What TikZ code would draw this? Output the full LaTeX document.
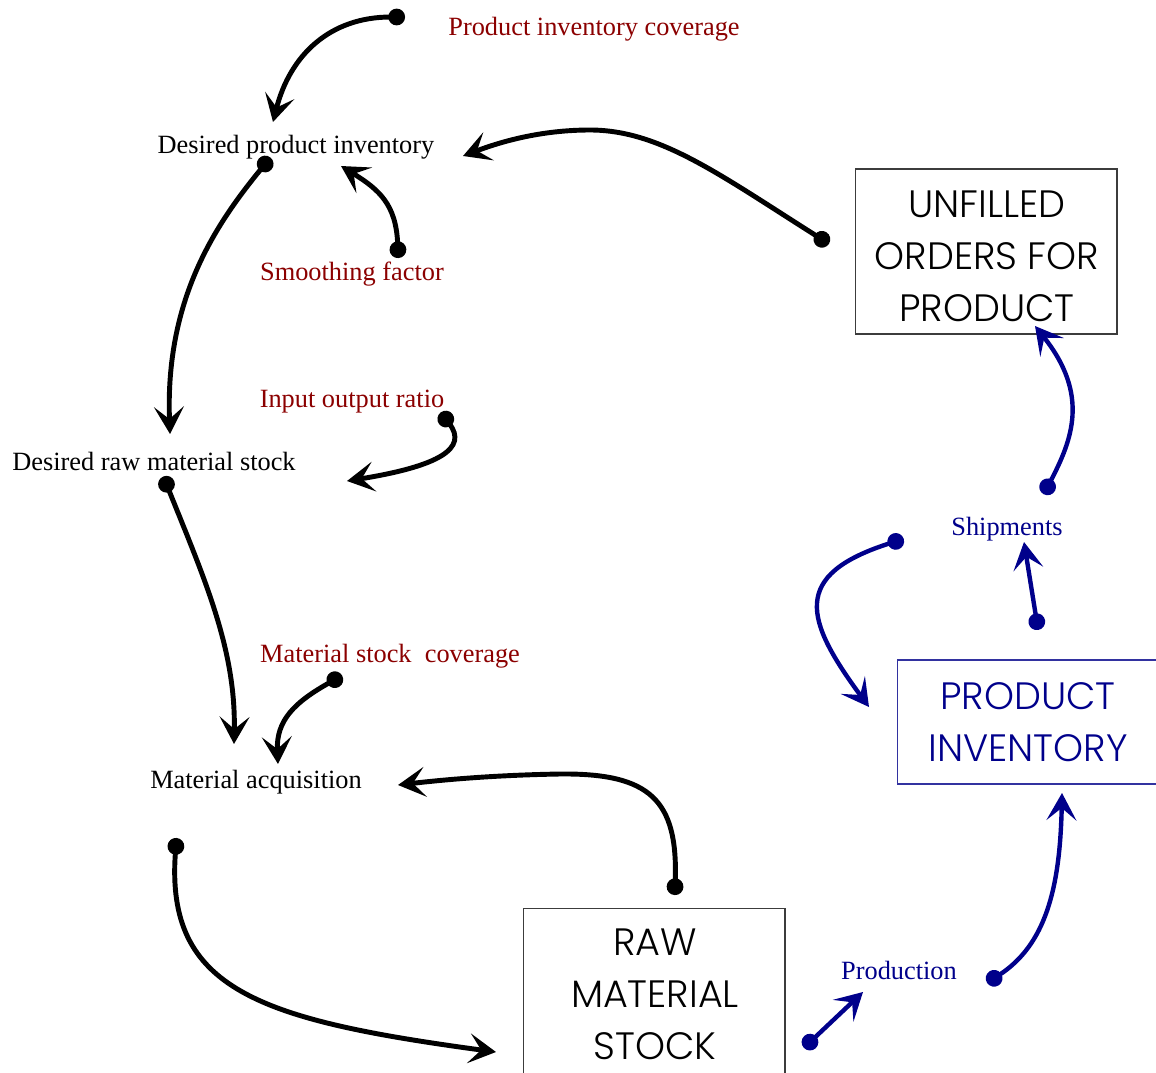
\documentclass[tikz,border=0pt]{standalone}
\usepackage{fontspec}
\setmainfont{Liberation Serif}
\newfontfamily\boxfont{Poppins}[UprightFont=* Light]
\usetikzlibrary{arrows.meta}
\definecolor{auxred}{RGB}{139,0,0}
\definecolor{flowblue}{RGB}{0,0,139}
\definecolor{boxgray}{RGB}{60,60,60}
\definecolor{boxblue}{RGB}{50,50,160}
\tikzset{
  lbl/.style={anchor=base, font=\fontsize{15}{18}\selectfont, inner sep=0pt},
  auxlbl/.style={lbl, text=auxred},
  flowlbl/.style={lbl, text=flowblue},
  stockbox/.style={draw=boxgray, line width=0.6pt, minimum width=5.24cm, inner sep=0pt},
  stocktext/.style={align=center, inner sep=0pt,
    font=\boxfont\fontsize{21.7}{29.5}\selectfont},
  link/.style={line width=2.8pt, line cap=round, shorten <=-4pt,
    {Circle[length=9.5pt]}-{Stealth[length=15.5pt, width=17pt, inset=7pt]}},
  bluelink/.style={link, draw=flowblue, line width=2.5pt},
}
\begin{document}
\begin{tikzpicture}[x=0.02cm, y=-0.02cm]
\useasboundingbox (0,0) rectangle (1156,1072);
\clip (0,0) rectangle (1156,1072);

% auxiliary and rate labels
\node[auxlbl] (pic) at (594,35) {Product inventory coverage};
\node[lbl] (dpi) at (296,153) {Desired product inventory};
\node[auxlbl] (sf) at (352,280) {Smoothing factor};
\node[auxlbl] (ior) at (352,407) {Input output ratio};
\node[lbl] (drms) at (154,470) {Desired raw material stock};
\node[auxlbl] (msc) at (390,662) {Material stock\ \ coverage};
\node[lbl] (ma) at (256,788) {Material acquisition};
\node[flowlbl] (ship) at (1007,535) {Shipments};
\node[flowlbl] (prod) at (899,979) {Production};

% stocks
\node[stockbox, minimum height=3.3cm] (ufo) at (986,251.5) {};
\node[stocktext] (ufo-t) at (987,256) {UNFILLED\\ORDERS FOR\\PRODUCT};
\node[stockbox, minimum height=2.48cm, draw=boxblue] (pinv) at (1028,722) {};
\node[stocktext, text=flowblue] (pinv-t) at (1028,722) {PRODUCT\\INVENTORY};
\node[stockbox, minimum height=3.44cm] (rms) at (654,994) {};
\node[stocktext] (rms-t) at (655,994) {RAW\\MATERIAL\\STOCK};

% connector ends
\coordinate (a1s) at (398,17);   \coordinate (a1e) at (273,122);
\coordinate (a2s) at (823,240);  \coordinate (a2m) at (590,130); \coordinate (a2e) at (463,156);
\coordinate (a3s) at (398,251);  \coordinate (a3e) at (341,166);
\coordinate (a4s) at (266,163);  \coordinate (a4e) at (170,434);
\coordinate (a5s) at (445,418);  \coordinate (a5e) at (347,481);
\coordinate (a6s) at (166,483);  \coordinate (a6e) at (234,744);
\coordinate (a7s) at (336,679);  \coordinate (a7e) at (278,764);
\coordinate (a8s) at (675,888);  \coordinate (a8m) at (560,774); \coordinate (a8e) at (398,785);
\coordinate (a9s) at (176,845);  \coordinate (a9e) at (496,1052);
\coordinate (b1s) at (809,1043); \coordinate (b1e) at (863,992);
\coordinate (b2s) at (993,979);  \coordinate (b2e) at (1062,793);
\coordinate (b3s) at (1037,623); \coordinate (b3e) at (1024,542);
\coordinate (b4s) at (1047,488); \coordinate (b4e) at (1035,326);
\coordinate (b5s) at (897,541);  \coordinate (b5e) at (869,707);

% information links
\draw[link] (a1s) .. controls (330,17) and (290,55) .. (a1e);
\draw[link] (a2s) .. controls (720,175) and (660,130) .. (a2m)
                  .. controls (540,130) and (500,142) .. (a2e);
\draw[link] (a3s) .. controls (396,205) and (380,190) .. (a3e);
\draw[link] (a4s) .. controls (215,225) and (165,300) .. (a4e);
\draw[link] (a5s) .. controls (468,448) and (440,466) .. (a5e);
\draw[link] (a6s) .. controls (205,580) and (236,650) .. (a6e);
\draw[link] (a7s) .. controls (295,702) and (276,720) .. (a7e);
\draw[link] (a8s) .. controls (678,800) and (650,773) .. (a8m)
                  .. controls (500,775) and (450,779) .. (a8e);
\draw[link] (a9s) .. controls (165,990) and (260,1020) .. (a9e);

% material flows
\draw[bluelink] (b1s) -- (b1e);
\draw[bluelink] (b2s) .. controls (1045,945) and (1060,890) .. (b2e);
\draw[bluelink] (b3s) -- (b3e);
\draw[bluelink] (b4s) .. controls (1072,440) and (1090,395) .. (b4e);
\draw[bluelink] (b5s) .. controls (790,575) and (805,620) .. (b5e);
\end{tikzpicture}
\end{document}
